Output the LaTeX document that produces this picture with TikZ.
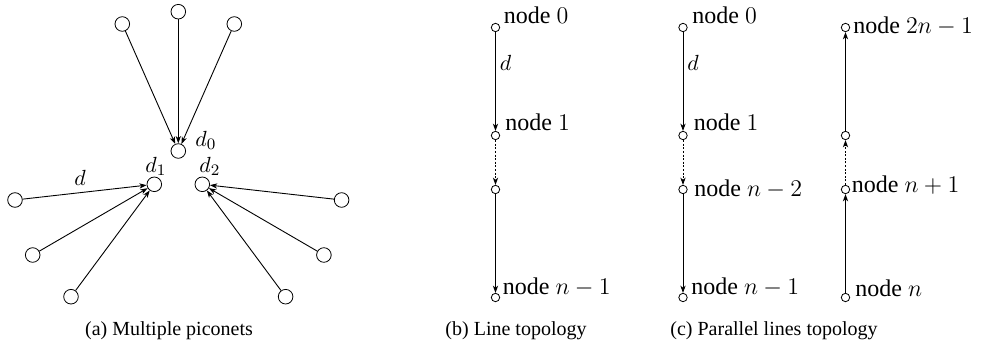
\documentclass[tikz,border=0pt]{standalone}
\usepackage{fontspec}
\setmainfont{Liberation Serif}
\usetikzlibrary{arrows.meta}

\begin{document}
\begin{tikzpicture}[
  x=0.5pt, y=-0.5pt,
  piconode/.style={draw, circle, inner sep=0pt, minimum size=7.3pt},
  linenode/.style={draw, circle, inner sep=0pt, minimum size=4.2pt},
  nodelabel/.style={anchor=base west, inner sep=0pt, font=\fontsize{12}{14}\selectfont},
  distlabel/.style={anchor=base west, inner sep=0pt, font=\fontsize{10.95}{12}\selectfont},
  linkarrow/.style={-{Stealth[length=3.6pt, width=2.6pt, inset=1pt]}, line width=0.45pt},
  dashedlink/.style={linkarrow, dash pattern=on 1pt off 0.8pt},
  subcaption/.style={anchor=base, inner sep=0pt, font=\fontsize{10}{12}\selectfont}
]
  \useasboundingbox (0,0) rectangle (997,348);

  % (a) piconets
  \node[piconode] (d0) at (178.3,151) {};
  \node[piconode] (d1) at (154.3,184.3) {};
  \node[piconode] (d2) at (202.3,184.3) {};
  \node[piconode] (u1) at (122.3,24) {};
  \node[piconode] (u2) at (178.3,11.7) {};
  \node[piconode] (u3) at (234.3,24) {};
  \node[piconode] (l1) at (15,200) {};
  \node[piconode] (l2) at (32.7,255) {};
  \node[piconode] (l3) at (71,296.7) {};
  \node[piconode] (r1) at (341.6,200) {};
  \node[piconode] (r2) at (323.9,255) {};
  \node[piconode] (r3) at (285.6,296.7) {};

  \node[distlabel] (ld0) at (195,146.7) {$d_0$};
  \node[distlabel] (ld1) at (145,172) {$d_1$};
  \node[distlabel] (ld2) at (199,172) {$d_2$};
  \node[distlabel] (lda) at (74,185.7) {$d$};

  \foreach \s in {u1,u2,u3} \draw[linkarrow] (\s) -- (d0);
  \foreach \s in {l1,l2,l3} \draw[linkarrow] (\s) -- (d1);
  \foreach \s in {r1,r2,r3} \draw[linkarrow] (\s) -- (d2);

  % (b) line
  \node[linenode] (b0) at (495.5,27.5) {};
  \node[linenode] (b1) at (495.5,135.5) {};
  \node[linenode] (b2) at (495.5,189.5) {};
  \node[linenode] (b3) at (495.5,297.5) {};

  \node[nodelabel] (lb0) at (503.5,23.5) {node $0$};
  \node[nodelabel] (lb1) at (505,130) {node $1$};
  \node[nodelabel] (lb3) at (502.5,294.5) {node $n-1$};
  \node[distlabel] (ldb) at (499.5,70) {$d$};

  \draw[linkarrow] (b0) -- (b1);
  \draw[dashedlink] (b1) -- (b2);
  \draw[linkarrow] (b2) -- (b3);

  % (c) parallel lines
  \node[linenode] (c0) at (683,27.5) {};
  \node[linenode] (c1) at (683,135.5) {};
  \node[linenode] (c2) at (683,189.5) {};
  \node[linenode] (c3) at (683,297.5) {};
  \node[linenode] (c4) at (845.5,297.5) {};
  \node[linenode] (c5) at (845.5,189.5) {};
  \node[linenode] (c6) at (845.5,135.5) {};
  \node[linenode] (c7) at (845.5,27.5) {};

  \node[nodelabel] (lc0) at (692,23.5) {node $0$};
  \node[nodelabel] (lc1) at (693.5,130) {node $1$};
  \node[nodelabel] (lc2) at (694,196) {node $n-2$};
  \node[nodelabel] (lc3) at (691,294.5) {node $n-1$};
  \node[distlabel] (ldc) at (687,70) {$d$};
  \node[nodelabel] (lc7) at (853,33) {node $2n-1$};
  \node[nodelabel] (lc5) at (851.5,192) {node $n+1$};
  \node[nodelabel] (lc4) at (855,296) {node $n$};

  \draw[linkarrow] (c0) -- (c1);
  \draw[dashedlink] (c1) -- (c2);
  \draw[linkarrow] (c2) -- (c3);
  \draw[linkarrow] (c4) -- (c5);
  \draw[dashedlink] (c5) -- (c6);
  \draw[linkarrow] (c6) -- (c7);

  % captions
  \node[subcaption] (capa) at (169,335.7) {(a) Multiple piconets};
  \node[subcaption] (capb) at (516,335.7) {(b) Line topology};
  \node[subcaption] (capc) at (774,335.7) {(c) Parallel lines topology};
\end{tikzpicture}
\end{document}
